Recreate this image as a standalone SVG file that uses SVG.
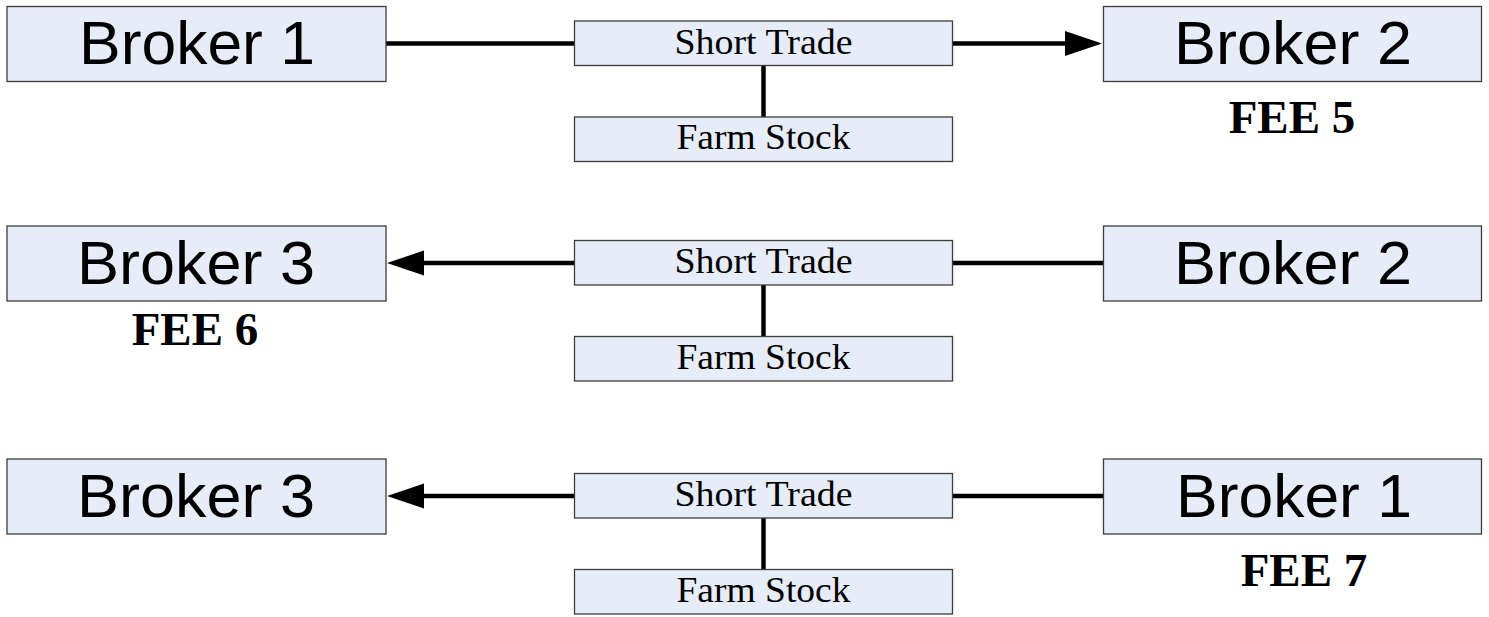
<svg xmlns="http://www.w3.org/2000/svg" width="1489" height="617" viewBox="0 0 1489 617">
<style>
.box{fill:#E6EDF8;stroke:#3c3c3c;stroke-width:1.3}
.big{font-family:"Liberation Sans",Arial,sans-serif;font-size:61px;fill:#000;text-anchor:middle}
.mid{font-family:"Liberation Serif","Times New Roman",serif;font-size:35px;fill:#000;text-anchor:middle}
.fee{font-family:"Liberation Serif","Times New Roman",serif;font-size:47px;font-weight:bold;fill:#000;text-anchor:middle}
.con{stroke:#000;stroke-width:4.5;fill:none;stroke-linecap:round}
</style>
<defs>
<marker id="arr" markerUnits="userSpaceOnUse" markerWidth="40" markerHeight="28" viewBox="0 -14 40 28" refX="1" refY="0" orient="auto">
<path d="M0,-12.5 L37,0 L0,12.5 Z" fill="#000"/>
</marker>
</defs>
<rect width="1489" height="617" fill="#fff"/>
<g id="connectors">
<line class="con" x1="386" y1="43.5" x2="574.5" y2="43.5"/>
<line class="con" x1="952.5" y1="43.5" x2="1066" y2="43.5" marker-end="url(#arr)"/>
<line class="con" x1="763.5" y1="65.5" x2="763.5" y2="117"/>
<line class="con" x1="574.5" y1="263" x2="423" y2="263" marker-end="url(#arr)"/>
<line class="con" x1="952.5" y1="263" x2="1103.5" y2="263"/>
<line class="con" x1="763.5" y1="285" x2="763.5" y2="336.5"/>
<line class="con" x1="574.5" y1="496" x2="423" y2="496" marker-end="url(#arr)"/>
<line class="con" x1="952.5" y1="496" x2="1103.5" y2="496"/>
<line class="con" x1="763.5" y1="518" x2="763.5" y2="569.5"/>
</g>
<g id="r1-broker1"><rect class="box" x="7" y="6.5" width="379" height="75"/><text class="big" x="197" y="64" textLength="236" lengthAdjust="spacingAndGlyphs">Broker 1</text></g>
<g id="r1-short"><rect class="box" x="574.5" y="21" width="378" height="44.5"/><text class="mid" x="763.5" y="53.5" textLength="178" lengthAdjust="spacingAndGlyphs">Short Trade</text></g>
<g id="r1-farm"><rect class="box" x="574.5" y="117" width="378" height="44.5"/><text class="mid" x="763.5" y="149" textLength="174" lengthAdjust="spacingAndGlyphs">Farm Stock</text></g>
<g id="r1-broker2"><rect class="box" x="1103.5" y="6.5" width="378" height="75"/><text class="big" x="1293" y="64" textLength="238" lengthAdjust="spacingAndGlyphs">Broker 2</text></g>
<g id="fee5"><text class="fee" x="1292" y="133">FEE 5</text></g>

<g id="r2-broker3"><rect class="box" x="7" y="226" width="379" height="75"/><text class="big" x="196" y="283.5" textLength="238" lengthAdjust="spacingAndGlyphs">Broker 3</text></g>
<g id="r2-short"><rect class="box" x="574.5" y="240.5" width="378" height="44.5"/><text class="mid" x="763.5" y="273" textLength="178" lengthAdjust="spacingAndGlyphs">Short Trade</text></g>
<g id="r2-farm"><rect class="box" x="574.5" y="336.5" width="378" height="44.5"/><text class="mid" x="763.5" y="368.5" textLength="174" lengthAdjust="spacingAndGlyphs">Farm Stock</text></g>
<g id="r2-broker2"><rect class="box" x="1103.5" y="226" width="378" height="75"/><text class="big" x="1293" y="283.5" textLength="238" lengthAdjust="spacingAndGlyphs">Broker 2</text></g>
<g id="fee6"><text class="fee" x="195" y="345">FEE 6</text></g>

<g id="r3-broker3"><rect class="box" x="7" y="459" width="379" height="75"/><text class="big" x="196" y="516.5" textLength="238" lengthAdjust="spacingAndGlyphs">Broker 3</text></g>
<g id="r3-short"><rect class="box" x="574.5" y="473.5" width="378" height="44.5"/><text class="mid" x="763.5" y="506" textLength="178" lengthAdjust="spacingAndGlyphs">Short Trade</text></g>
<g id="r3-farm"><rect class="box" x="574.5" y="569.5" width="378" height="44.5"/><text class="mid" x="763.5" y="601.5" textLength="174" lengthAdjust="spacingAndGlyphs">Farm Stock</text></g>
<g id="r3-broker1"><rect class="box" x="1103.5" y="459" width="378" height="75"/><text class="big" x="1294" y="516.5" textLength="236" lengthAdjust="spacingAndGlyphs">Broker 1</text></g>
<g id="fee7"><text class="fee" x="1304" y="586">FEE 7</text></g>
</svg>
